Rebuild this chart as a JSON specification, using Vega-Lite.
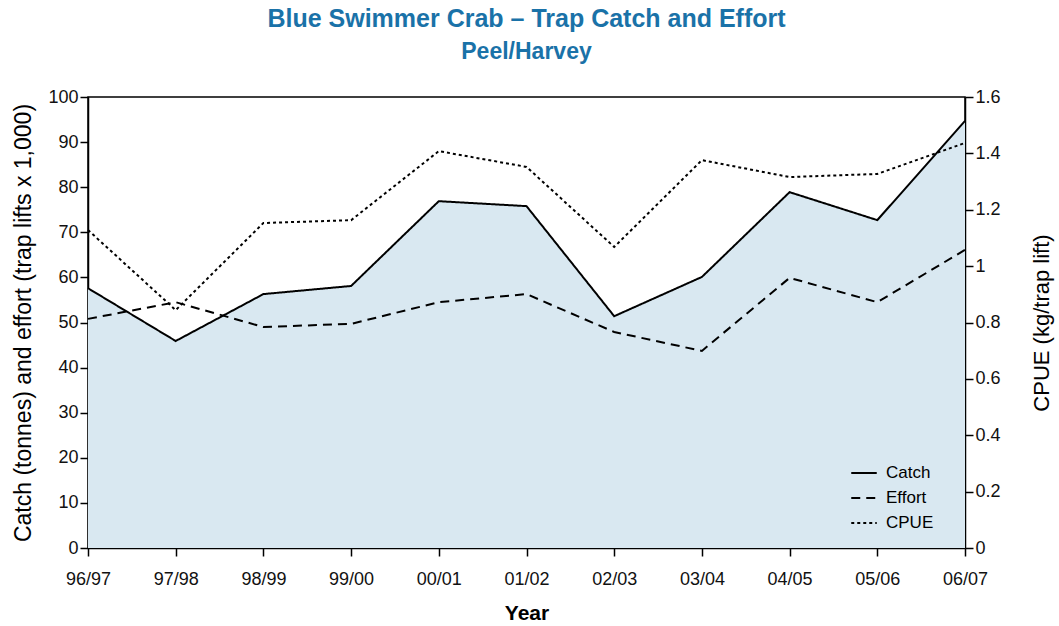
{
  "$schema": "https://vega.github.io/schema/vega-lite/v6.json",
  "width": 877,
  "height": 451,
  "autosize": {"type": "none"},
  "padding": {"left": 88, "top": 97, "right": 94, "bottom": 78},
  "background": "white",
  "title": {
    "text": "Blue Swimmer Crab – Trap Catch and Effort",
    "subtitle": "Peel/Harvey",
    "anchor": "middle",
    "font": "Liberation Sans Narrow, Liberation Sans",
    "fontSize": 25,
    "fontWeight": "bold",
    "color": "#1a72a8",
    "subtitleFont": "Liberation Sans Narrow, Liberation Sans",
    "subtitleFontSize": 23,
    "subtitleFontWeight": "bold",
    "subtitleColor": "#1a72a8",
    "subtitlePadding": 9,
    "offset": 24
  },
  "config": {
    "font": "Liberation Sans",
    "view": {"stroke": "black", "strokeWidth": 1.5},
    "axis": {
      "grid": false,
      "domainColor": "black",
      "domainWidth": 1.5,
      "tickColor": "black",
      "tickWidth": 1.5,
      "tickSize": 8,
      "labelFont": "Liberation Sans",
      "labelFontSize": 18,
      "labelColor": "#111",
      "titleFont": "Liberation Sans",
      "titleFontSize": 20,
      "titleColor": "black"
    }
  },
  "data": {
    "values": [
      {"Year": "96/97", "Catch": 57.6, "Effort": 50.8, "CPUE": 1.128},
      {"Year": "97/98", "Catch": 45.9, "Effort": 54.5, "CPUE": 0.844},
      {"Year": "98/99", "Catch": 56.3, "Effort": 49.0, "CPUE": 1.153},
      {"Year": "99/00", "Catch": 58.1, "Effort": 49.7, "CPUE": 1.163},
      {"Year": "00/01", "Catch": 76.9, "Effort": 54.5, "CPUE": 1.408},
      {"Year": "01/02", "Catch": 75.8, "Effort": 56.3, "CPUE": 1.352},
      {"Year": "02/03", "Catch": 51.4, "Effort": 47.9, "CPUE": 1.068},
      {"Year": "03/04", "Catch": 60.1, "Effort": 43.7, "CPUE": 1.376},
      {"Year": "04/05", "Catch": 78.9, "Effort": 59.9, "CPUE": 1.316},
      {"Year": "05/06", "Catch": 72.7, "Effort": 54.5, "CPUE": 1.327},
      {"Year": "06/07", "Catch": 94.7, "Effort": 66.1, "CPUE": 1.437}
    ]
  },
  "encoding": {
    "x": {
      "field": "Year",
      "type": "ordinal",
      "sort": null,
      "scale": {"type": "point", "padding": 0},
      "axis": {"title": "Year", "labelAngle": 0, "labelPadding": 14, "titleFontWeight": "bold", "titleFontSize": 21, "titlePadding": 14}
    }
  },
  "layer": [
    {
      "layer": [
        {
          "mark": {"type": "area", "color": "#d9e8f1", "opacity": 1},
          "encoding": {
            "y": {
              "field": "Catch",
              "type": "quantitative",
              "scale": {"domain": [0, 100]},
              "axis": {
                "title": "Catch (tonnes) and effort (trap lifts x 1,000)",
                "values": [0, 10, 20, 30, 40, 50, 60, 70, 80, 90, 100],
                "titlePadding": 12,
                "titleFontSize": 23,
                "titleFontWeight": "normal"
              }
            }
          }
        },
        {
          "transform": [{"fold": ["Catch", "Effort"], "as": ["series", "value"]}],
          "mark": {"type": "line", "color": "black", "strokeWidth": 2},
          "encoding": {
            "y": {"field": "value", "type": "quantitative"},
            "strokeDash": {
              "field": "series",
              "type": "nominal",
              "scale": {"domain": ["Catch", "Effort", "CPUE"], "range": [[1, 0], [9, 6], [3, 3]]},
              "legend": {
                "title": null,
                "orient": "none",
                "legendX": 762,
                "legendY": 362,
                "labelFontSize": 17,
                "labelFont": "Liberation Sans",
                "labelOffset": 8,
                "symbolStrokeColor": "black",
                "symbolStrokeWidth": 2,
                "symbolSize": 650,
                "rowPadding": 3
              }
            }
          }
        }
      ]
    },
    {
      "transform": [{"fold": ["CPUE"], "as": ["series", "value"]}],
      "mark": {"type": "line", "color": "black", "strokeWidth": 2},
      "encoding": {
        "y": {
          "field": "value",
          "type": "quantitative",
          "scale": {"domain": [0, 1.6]},
          "axis": {
            "orient": "right",
            "title": "CPUE (kg/trap lift)",
            "format": ".1~f",
            "values": [0, 0.2, 0.4, 0.6, 0.8, 1, 1.2, 1.4, 1.6],
            "titleAngle": -90,
            "titleBaseline": "middle",
            "titleX": 76,
            "titleFontSize": 22,
            "titleFontWeight": "normal"
          }
        },
        "strokeDash": {"field": "series", "type": "nominal"}
      }
    }
  ],
  "resolve": {"scale": {"y": "independent"}}
}
